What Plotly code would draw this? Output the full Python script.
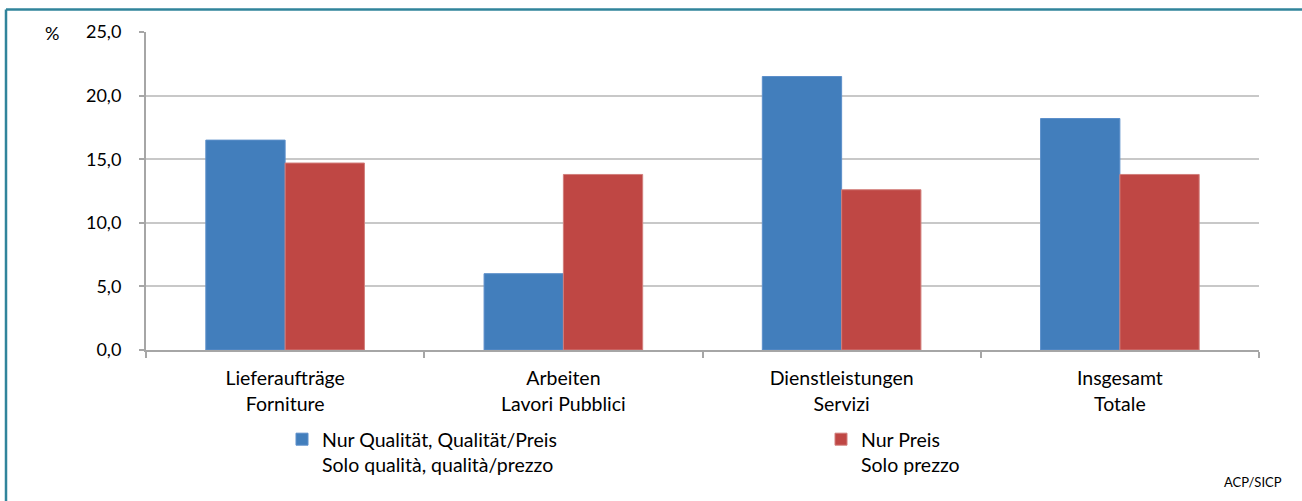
import plotly.graph_objects as go

categories = ["Lieferaufträge<br>Forniture", "Arbeiten<br>Lavori Pubblici",
              "Dienstleistungen<br>Servizi", "Insgesamt<br>Totale"]
series_names = ["Nur Qualität, Qualität/Preis<br>Solo qualità, qualità/prezzo",
                "Nur Preis<br>Solo prezzo"]
quality_values = [16.5, 6.0, 21.5, 18.2]
price_values = [14.7, 13.8, 12.6, 13.8]
y_ticks = [0, 5, 10, 15, 20, 25]

W, H = 1302, 501
L, R, T, B = 146, 43, 32, 151
PW, PH = W - L - R, H - T - B

def px_x(px):
    return (px - L) / PW

def px_y(py):
    return (H - B - py) / PH

FONT = "Lato"
FS = 19.5
fig = go.Figure()
fig.add_trace(go.Bar(x=categories, y=quality_values, name=series_names[0], legend="legend",
                     showlegend=True,
                     marker=dict(color="#427EBC", line=dict(color="#5C8FCA", width=1))))
fig.add_trace(go.Bar(x=categories, y=price_values, name=series_names[1], legend="legend2",
                     showlegend=True,
                     marker=dict(color="#BF4744", line=dict(color="#D27F7C", width=1))))

leg_common = dict(xanchor="left", yanchor="top", valign="top", bgcolor="rgba(0,0,0,0)",
                  font=dict(family=FONT, size=FS, color="#000000"), itemclick=False)
fig.update_layout(
    width=W, height=H,
    showlegend=True,
    margin=dict(l=L, r=R, t=T, b=B, pad=0, autoexpand=False),
    paper_bgcolor="white", plot_bgcolor="white",
    barmode="group", bargap=0.43, bargroupgap=0,
    separators=",.",
    font=dict(family=FONT, size=FS, color="#000000"),
    legend=dict(x=px_x(282), y=px_y(420), **leg_common),
    legend2=dict(x=px_x(821), y=px_y(420), **leg_common),
)
fig.update_xaxes(showline=True, linecolor="#A6A6A6", linewidth=2,
                 ticks="outside", tickson="boundaries", ticklen=6, tickcolor="#A6A6A6", tickwidth=2,
                 showgrid=False, ticklabelstandoff=10,
                 tickfont=dict(family=FONT, size=19.5, color="#000000"))
fig.update_yaxes(range=[0, 25], tickvals=y_ticks, tickformat=".1f",
                 showline=True, linecolor="#A6A6A6", linewidth=2,
                 ticks="outside", ticklen=5, tickcolor="#A6A6A6", tickwidth=2,
                 showgrid=True, gridcolor="#C8C8C8", gridwidth=1.5,
                 ticklabelstandoff=14, zeroline=False,
                 tickfont=dict(family=FONT, size=18, color="#000000"))

fig.add_annotation(text="%", x=px_x(52), y=px_y(33), xref="paper", yref="paper",
                   xanchor="center", yanchor="middle",
                   showarrow=False, font=dict(family=FONT, size=18, color="#000000"))
fig.add_annotation(text="ACP/SICP", x=px_x(1284), y=px_y(482), xref="paper", yref="paper",
                   xanchor="right", yanchor="middle",
                   showarrow=False, font=dict(family=FONT, size=13, color="#000000"))

frame = "#31849B"
fig.add_shape(type="line", xref="paper", yref="paper", x0=px_x(6), x1=px_x(1302),
              y0=px_y(9.5), y1=px_y(9.5), line=dict(color=frame, width=2.5))
fig.add_shape(type="line", xref="paper", yref="paper", x0=px_x(6), x1=px_x(6),
              y0=px_y(9.5), y1=px_y(501), line=dict(color=frame, width=2.5))

fig.write_html("out.html", config={"displayModeBar": False},
               post_script="document.body.style.margin='0';document.body.style.overflow='hidden';")
